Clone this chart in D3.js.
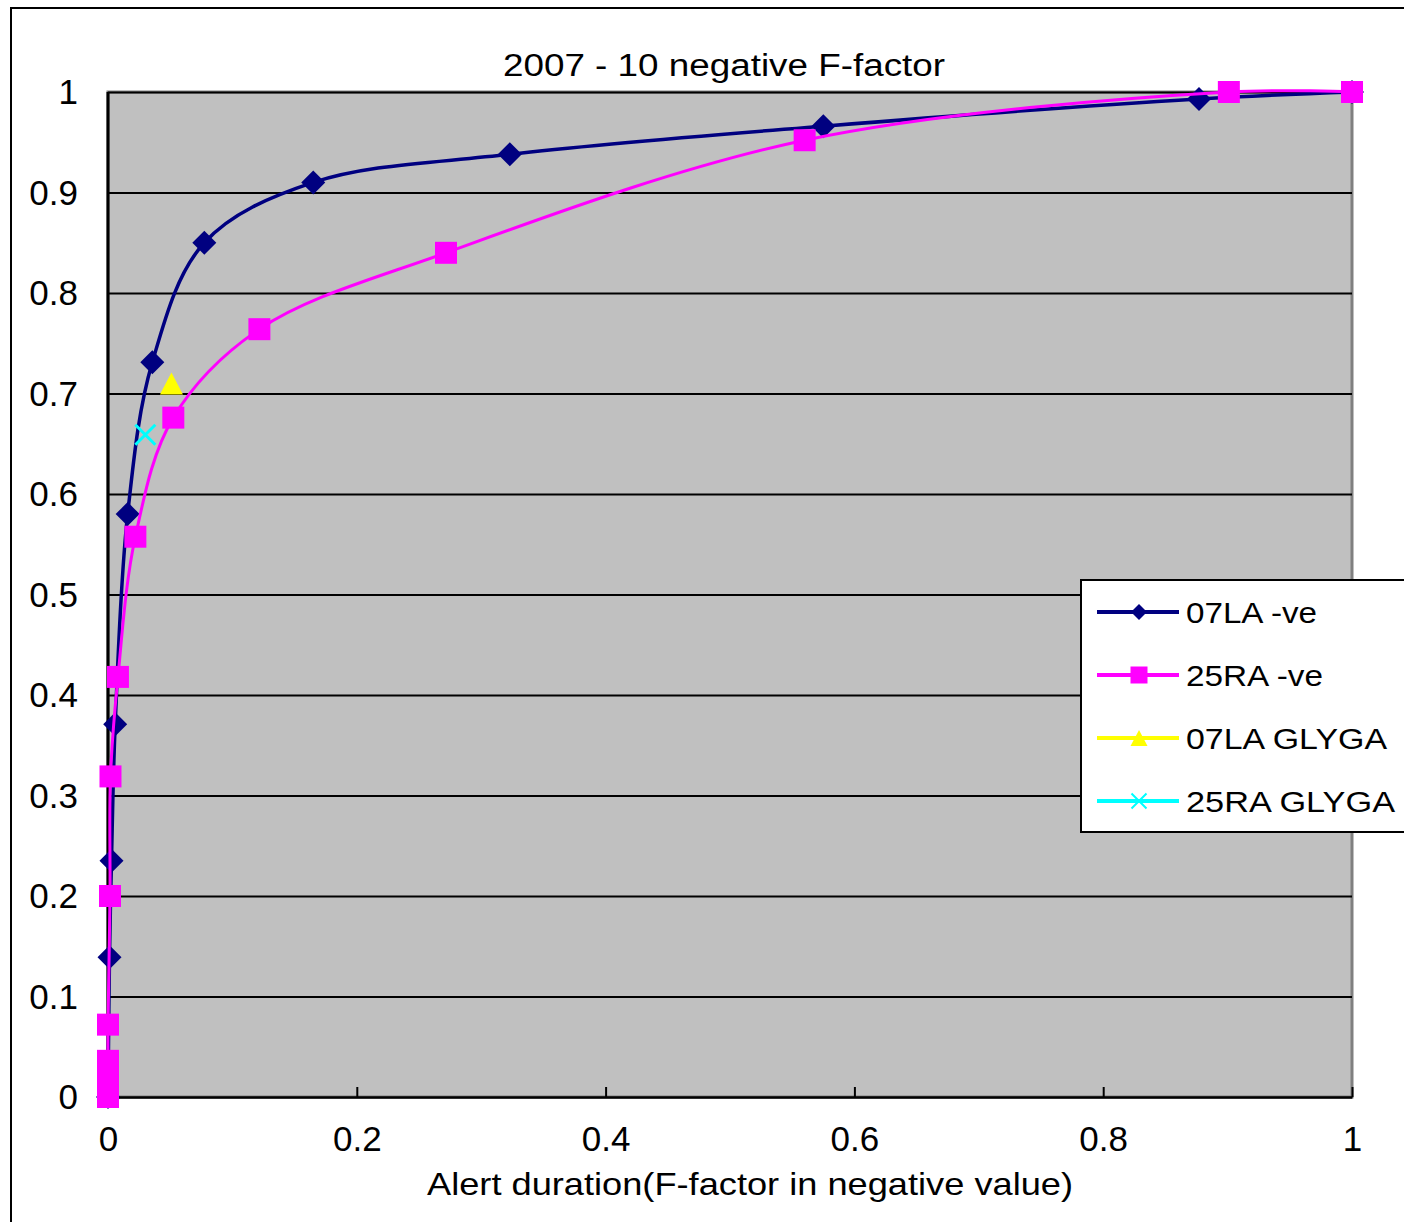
<!DOCTYPE html>
<html>
<head>
<meta charset="utf-8">
<script src="https://cdn.jsdelivr.net/npm/d3@7"></script>
<style>
  body { margin: 0; background: #fff; }
  svg { display: block; font-family: "Liberation Sans", Arial, sans-serif; }
</style>
</head>
<body>
<svg id="chart" width="1404" height="1222"></svg>
<script>
// series data
const la07_x = [0, 0.0012, 0.0028, 0.0058, 0.0158, 0.0356, 0.0774, 0.165, 0.323, 0.575, 0.877, 1.0];
const la07_y = [0, 0.139, 0.235, 0.371, 0.580, 0.731, 0.850, 0.910, 0.938, 0.966, 0.993, 1.0];

const ra25_x = [0, 0, 0, 0, 0, 0, 0.0016, 0.002, 0.008, 0.022, 0.0525, 0.1217, 0.2717, 0.560, 0.901, 1.0];
const ra25_y = [0, 0.008, 0.017, 0.027, 0.036, 0.072, 0.200, 0.319, 0.418, 0.5575, 0.676, 0.764, 0.840, 0.952, 1.0, 1.0];

const la07_glyga = [[0.051, 0.710]];
const ra25_glyga = [[0.030, 0.659]];

const xTicks = [0, 0.2, 0.4, 0.6, 0.8, 1];
const yTicks = [0, 0.1, 0.2, 0.3, 0.4, 0.5, 0.6, 0.7, 0.8, 0.9, 1];
const legendNames = ["07LA -ve", "25RA -ve", "07LA GLYGA", "25RA GLYGA"];
const colors = ["#000080", "#ff00ff", "#ffff00", "#00ffff"];

const svg = d3.select("#chart");

// outer chart frame (cut on the right and bottom)
svg.append("path")
  .attr("d", "M11,1240 L11,8 L1420,8")
  .attr("fill", "none")
  .attr("stroke", "#000")
  .attr("stroke-width", 2);

const plot = { left: 108, right: 1352, top: 92, bottom: 1097 };

const xScale = d3.scaleLinear().domain([0, 1]).range([plot.left, plot.right]);
const yScale = d3.scaleLinear().domain([0, 1]).range([plot.bottom, plot.top]);

// plot background
svg.append("rect")
  .attr("x", plot.left).attr("y", plot.top)
  .attr("width", plot.right - plot.left).attr("height", plot.bottom - plot.top)
  .attr("fill", "#c0c0c0")
  .attr("stroke", "#808080")
  .attr("stroke-width", 3);

// y axis + gridlines
const yAxis = svg.append("g")
  .attr("transform", `translate(${plot.left},0)`)
  .call(d3.axisLeft(yScale).tickValues(yTicks).tickFormat(d3.format("~g"))
    .tickSize(-(plot.right - plot.left)).tickPadding(30));
yAxis.select(".domain").remove();
yAxis.selectAll(".tick line").attr("stroke", "#000").attr("stroke-width", 2);
yAxis.selectAll(".tick text")
  .attr("fill", "#000")
  .style("font-size", "35px")
  .attr("dy", "0.33em");

// x axis
const xAxis = svg.append("g")
  .attr("transform", `translate(0,${plot.bottom})`)
  .call(d3.axisBottom(xScale).tickValues(xTicks).tickFormat(d3.format("~g"))
    .tickSizeInner(-10).tickSizeOuter(0).tickPadding(29));
xAxis.select(".domain").attr("stroke", "#000").attr("stroke-width", 2);
xAxis.selectAll(".tick line").attr("stroke", "#000").attr("stroke-width", 2);
xAxis.selectAll(".tick text")
  .attr("fill", "#000")
  .style("font-size", "35px");

// left axis line
svg.append("line")
  .attr("x1", plot.left).attr("x2", plot.left)
  .attr("y1", plot.top).attr("y2", plot.bottom)
  .attr("stroke", "#000").attr("stroke-width", 3);

// titles
svg.append("text")
  .attr("x", 724).attr("y", 76)
  .attr("text-anchor", "middle")
  .attr("textLength", 442).attr("lengthAdjust", "spacingAndGlyphs")
  .style("font-size", "31px")
  .text("2007 - 10 negative  F-factor");

svg.append("text")
  .attr("x", 750).attr("y", 1195)
  .attr("text-anchor", "middle")
  .attr("textLength", 646).attr("lengthAdjust", "spacingAndGlyphs")
  .style("font-size", "32px")
  .text("Alert duration(F-factor in negative value)");

// markers
function diamond(r) { return `M0,${-r}L${r},0L0,${r}L${-r},0Z`; }
function square(s) { return `M${-s/2},${-s/2}h${s}v${s}h${-s}Z`; }
function triangle(w, h) { return `M0,${-h/2}L${w/2},${h/2}L${-w/2},${h/2}Z`; }
function cross(s) { return `M${-s/2},${-s/2}L${s/2},${s/2}M${s/2},${-s/2}L${-s/2},${s/2}`; }

const line = d3.line()
  .x(d => xScale(d[0]))
  .y(d => yScale(d[1]))
  .curve(d3.curveCatmullRom.alpha(0.5));

const la07 = la07_x.map((v, i) => [v, la07_y[i]]);
const ra25 = ra25_x.map((v, i) => [v, ra25_y[i]]);

// 07LA -ve
svg.append("path")
  .datum(la07)
  .attr("d", line)
  .attr("fill", "none")
  .attr("stroke", colors[0])
  .attr("stroke-width", 3.5);
svg.selectAll("path.m07")
  .data(la07)
  .join("path")
    .attr("class", "m07")
    .attr("transform", d => `translate(${xScale(d[0])},${yScale(d[1])})`)
    .attr("d", diamond(12))
    .attr("fill", colors[0]);

// 25RA -ve
svg.append("path")
  .datum(ra25)
  .attr("d", line)
  .attr("fill", "none")
  .attr("stroke", colors[1])
  .attr("stroke-width", 3);
svg.selectAll("path.m25")
  .data(ra25)
  .join("path")
    .attr("class", "m25")
    .attr("transform", d => `translate(${xScale(d[0])},${yScale(d[1])})`)
    .attr("d", square(22))
    .attr("fill", colors[1]);

// 07LA GLYGA
svg.selectAll("path.mtri")
  .data(la07_glyga)
  .join("path")
    .attr("class", "mtri")
    .attr("transform", d => `translate(${xScale(d[0])},${yScale(d[1])})`)
    .attr("d", triangle(23, 22))
    .attr("fill", colors[2]);

// 25RA GLYGA
svg.selectAll("path.mx")
  .data(ra25_glyga)
  .join("path")
    .attr("class", "mx")
    .attr("transform", d => `translate(${xScale(d[0])},${yScale(d[1])})`)
    .attr("d", cross(20))
    .attr("fill", "none")
    .attr("stroke", colors[3])
    .attr("stroke-width", 3);

// legend
const legend = svg.append("g");
legend.append("rect")
  .attr("x", 1081).attr("y", 580)
  .attr("width", 340).attr("height", 252)
  .attr("fill", "#fff")
  .attr("stroke", "#000")
  .attr("stroke-width", 2);

const legendMarks = [diamond(8), square(17), triangle(17, 16), cross(15)];
const legendWidths = [131, 137, 201, 209];

const rows = legend.selectAll("g.row")
  .data(legendNames)
  .join("g")
    .attr("class", "row")
    .attr("transform", (d, i) => `translate(0,${612 + i * 63})`);

rows.append("line")
  .attr("x1", 1097).attr("x2", 1179)
  .attr("stroke", (d, i) => colors[i])
  .attr("stroke-width", 4);

rows.append("path")
  .attr("transform", "translate(1139,0)")
  .attr("d", (d, i) => legendMarks[i])
  .attr("fill", (d, i) => i === 3 ? "none" : colors[i])
  .attr("stroke", (d, i) => i === 3 ? colors[i] : "none")
  .attr("stroke-width", 2);

rows.append("text")
  .attr("x", 1186).attr("y", 11)
  .attr("textLength", (d, i) => legendWidths[i])
  .attr("lengthAdjust", "spacingAndGlyphs")
  .style("font-size", "30px")
  .text(d => d);
</script>
</body>
</html>
